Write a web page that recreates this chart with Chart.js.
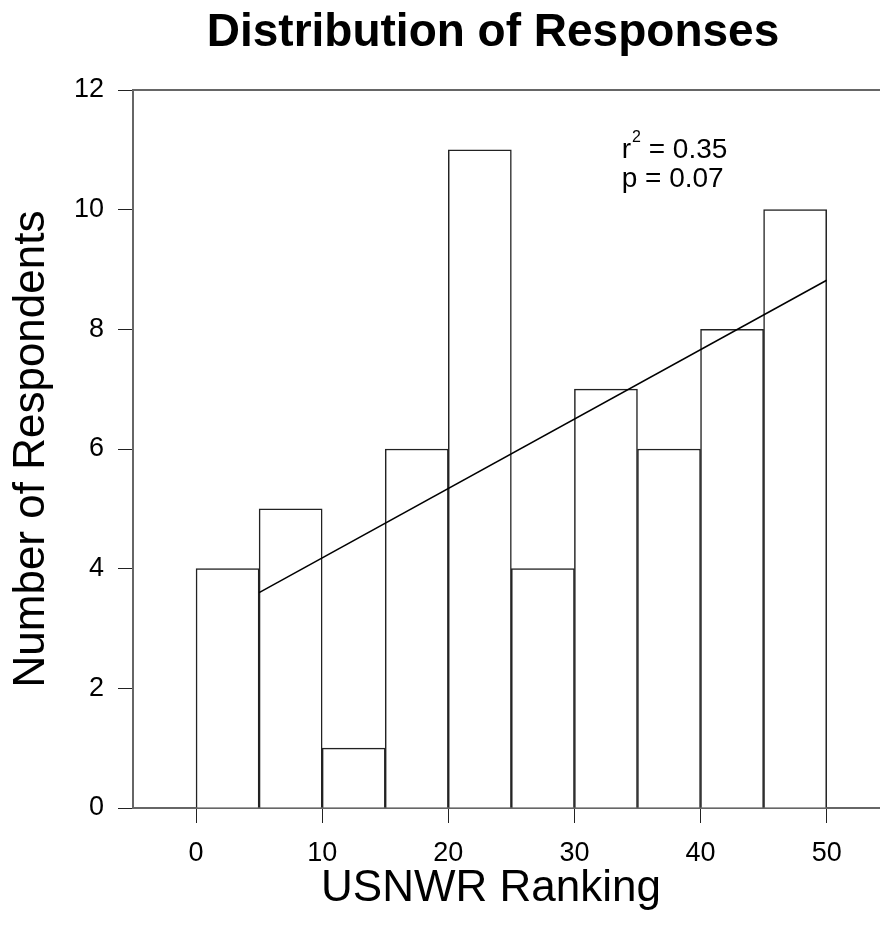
<!DOCTYPE html>
<html>
<head>
<meta charset="utf-8">
<script src="https://cdn.jsdelivr.net/npm/chart.js@4"></script>
<style>
  html, body { margin: 0; padding: 0; background: #fff; overflow: hidden; }
  #wrap { width: 880px; height: 931px; }
</style>
</head>
<body>
<div id="wrap"><canvas id="myChart"></canvas></div>
<script>
// histogram bins (USNWR ranking) and counts
var binStarts = [0, 5, 10, 15, 20, 25, 30, 35, 40, 45];
var binWidth = 5;
var counts = [4, 5, 1, 6, 11, 4, 7, 6, 8, 10];

// regression line end points
var fitX = [5, 50];
var fitY = [3.6, 8.82];

var xTicks = [0, 10, 20, 30, 40, 50];
var yTicks = [0, 2, 4, 6, 8, 10, 12];

var noteLines = ["= 0.35", "p = 0.07"];

var font = "'Liberation Sans', Arial, Helvetica, sans-serif";

// histogram bars built from the bins
var barData = binStarts.map(function(s, i) {
  return { x: s + binWidth / 2, y: counts[i] };
});
var lineData = fitX.map(function(x, i) {
  return { x: x, y: fitY[i] };
});

// extra text: title, x title, r2 note, top frame line
var extras = {
  id: 'extras',
  afterDraw: function(chart) {
    var ctx = chart.ctx;
    var area = chart.chartArea;
    var xs = chart.scales.x;
    var ys = chart.scales.y;
    ctx.save();

    // top frame line
    ctx.strokeStyle = '#666';
    ctx.lineWidth = 2;
    ctx.beginPath();
    ctx.moveTo(area.left, area.top);
    ctx.lineTo(area.right, area.top);
    ctx.stroke();

    ctx.fillStyle = '#000';
    ctx.textBaseline = 'middle';
    ctx.textAlign = 'center';
    ctx.font = "bold 46px " + font;
    ctx.fillText("Distribution of Responses", 493, 33);

    ctx.font = "44px " + font;
    ctx.fillText("USNWR Ranking", 491, 889);

    // r^2 / p note
    ctx.textAlign = 'left';
    var nx = xs.getPixelForValue(33.75);
    var ny1 = ys.getPixelForValue(11.0);
    var ny2 = ys.getPixelForValue(10.5);
    ctx.font = "28px " + font;
    ctx.fillText("r", nx, ny1);
    var rw = ctx.measureText("r").width;
    ctx.font = "16px " + font;
    ctx.fillText("2", nx + rw + 1, ny1 - 12);
    var sw = ctx.measureText("2").width;
    ctx.font = "28px " + font;
    ctx.fillText(" " + noteLines[0], nx + rw + sw + 1, ny1);
    ctx.fillText(noteLines[1], nx, ny2);
    ctx.restore();
  }
};

var ctx = document.getElementById('myChart');

var chart = new Chart(ctx, {
  type: 'bar',
  data: {
    datasets: [{
      type: 'bar',
      data: barData,
      backgroundColor: '#fff',
      borderColor: '#222',
      borderWidth: 1.5,
      barPercentage: 1,
      categoryPercentage: 1,
      order: 2
    }, {
      type: 'line',
      data: lineData,
      borderColor: '#000',
      borderWidth: 1.5,
      pointRadius: 0,
      fill: false,
      order: 1
    }]
  },
  options: {
    responsive: true,
    maintainAspectRatio: false,
    animation: false,
    layout: { padding: { top: 90, right: 0, left: 0, bottom: 0 } },
    plugins: {
      legend: { display: false },
      tooltip: { enabled: false }
    },
    scales: {
      x: {
        type: 'linear',
        min: -5,
        max: 54.23,
        offset: false,
        afterBuildTicks: function(axis) {
          axis.ticks = xTicks.map(function(v) { return { value: v }; });
        },
        afterFit: function(axis) { axis.height = 123; },
        grid: {
          offset: false,
          drawOnChartArea: false,
          drawTicks: true,
          tickLength: 15,
          color: '#222',
          lineWidth: 1
        },
        border: { display: true, color: '#666', width: 2 },
        ticks: {
          color: '#000',
          padding: 14,
          maxRotation: 0,
          font: { family: font, size: 27 }
        }
      },
      y: {
        min: 0,
        max: 12,
        afterBuildTicks: function(axis) {
          axis.ticks = yTicks.map(function(v) { return { value: v }; });
        },
        afterFit: function(axis) { axis.width = 133; },
        grid: {
          drawOnChartArea: false,
          drawTicks: true,
          tickLength: 15,
          color: '#222',
          lineWidth: 1
        },
        border: { display: true, color: '#666', width: 2 },
        ticks: {
          color: '#000',
          padding: 14,
          font: { family: font, size: 27 }
        },
        title: {
          display: true,
          text: 'Number of Respondents',
          color: '#000',
          font: { family: font, size: 44 },
          padding: { top: 5, bottom: 0 }
        }
      }
    }
  },
  plugins: [extras]
});
</script>
</body>
</html>
